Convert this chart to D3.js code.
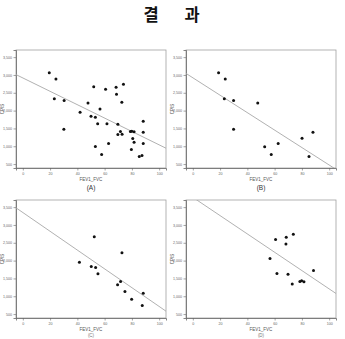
<!DOCTYPE html>
<html><head><meta charset="utf-8">
<script src="https://cdn.jsdelivr.net/npm/d3@7"></script>
<style>body{margin:0;background:#fff}svg{display:block}</style>
</head><body>
<script>
// ---- data ----
const xTicks = [0, 20, 40, 60, 80, 100];
const yTicks = [500, 1000, 1500, 2000, 2500, 3000, 3500];
const xLabel = "FEV1_FVC";
const yLabel = "CPIS";
const panelLabels = ["(A)", "(B)", "(C)", "(D)"];

const xA = [19.4,24.3,23.1,30.3,30.1,42.0,47.8,52.0,50.0,53.2,54.9,53.2,56.6,57.8,60.7,61.7,62.9,68.4,68.7,69.7,69.7,71.6,72.8,72.6,73.8,78.9,79.9,81.6,80.6,81.6,79.6,88.3,88.3,88.3,85.4,87.4];
const yA = [3063,2886,2336,2280,1479,1954,2215,2672,1842,1814,1628,994,2047,770,2597,1628,1078,2653,2457,1618,1329,1413,1339,2234,2737,1413,1423,1404,1218,1115,910,1702,1395,1078,714,742];
const fitA = [2916, -18.77];

const xB = [18.9,23.8,23.1,29.9,29.9,47.6,52.7,57.5,62.6,80.1,88.1,85.2];
const yB = [3063,2886,2336,2280,1479,2215,985,770,1078,1227,1395,714];
const fitB = [2921, -24.47];

const xC = [41.5,50.2,53.4,55.1,52.4,72.7,69.5,71.7,74.9,79.8,88.3,87.6];
const yC = [1954,1833,1806,1630,2667,2222,1324,1417,1130,917,1083,741];
const fitC = [3349, -26.36];

const xD = [60.7,68.5,73.7,68.3,56.6,61.7,69.8,88.5,72.9,78.5,79.8,81.5];
const yD = [2593,2658,2741,2463,2056,1639,1620,1722,1343,1417,1435,1408];
const fitD = [3776, -25.7];

const panels = [
  {xs: xA, ys: yA, fit: fitA, label: panelLabels[0]},
  {xs: xB, ys: yB, fit: fitB, label: panelLabels[1]},
  {xs: xC, ys: yC, fit: fitC, label: panelLabels[2]},
  {xs: xD, ys: yD, fit: fitD, label: panelLabels[3]}
];

// ---- layout ----
const W = 345, H = 339;
const svg = d3.select("body").append("svg").attr("width", W).attr("height", H);

svg.append("text").attr("x", 151).attr("y", 21).attr("text-anchor", "middle")
  .attr("font-family", "Noto Sans CJK KR").attr("font-weight", "bold").attr("font-size", 16.5)
  .attr("fill", "#111").text("결");
svg.append("text").attr("x", 192).attr("y", 21).attr("text-anchor", "middle")
  .attr("font-family", "Noto Sans CJK KR").attr("font-weight", "bold").attr("font-size", 16.5)
  .attr("fill", "#111").text("과");

const origins = [[16, 50], [186, 50], [16, 200], [186, 200]];
const pw = 150, ph = 118;

panels.forEach((p, i) => {
  const [ox, oy] = origins[i];
  const bottomRow = i >= 2;
  const g = svg.append("g").attr("transform", `translate(${ox},${oy})`);
  const x = d3.scaleLinear().domain([-5, 105]).range([0, pw]);
  const y = d3.scaleLinear().domain([390, 3700]).range([ph, 0]);

  const clipId = "clip" + i;
  g.append("clipPath").attr("id", clipId).append("rect").attr("width", pw).attr("height", ph);

  g.append("rect").attr("width", pw).attr("height", ph).attr("fill", "#fff")
    .attr("stroke", "#a0a0a0").attr("stroke-width", 0.8);

  const xAxis = g.append("g").attr("transform", `translate(0,${ph})`)
    .call(d3.axisBottom(x).tickValues(xTicks).tickSize(2.5).tickPadding(1.5));
  const yAxis = g.append("g")
    .call(d3.axisLeft(y).tickValues(yTicks).tickSize(2.5).tickPadding(1.5));
  [xAxis, yAxis].forEach(a => {
    a.select(".domain").attr("stroke", "#666").attr("stroke-width", 0.8);
    a.selectAll(".tick line").attr("stroke", "#666").attr("stroke-width", 0.6);
    a.selectAll(".tick text").attr("font-size", 3.6).attr("fill", "#666")
      .attr("font-family", "Arial, Liberation Sans, sans-serif");
  });

  // regression line
  const x0 = -5, x1 = 105;
  g.append("line").attr("clip-path", `url(#${clipId})`)
    .attr("x1", x(x0)).attr("y1", y(p.fit[0] + p.fit[1] * x0))
    .attr("x2", x(x1)).attr("y2", y(p.fit[0] + p.fit[1] * x1))
    .attr("stroke", "#a8a8a8").attr("stroke-width", 0.9);

  g.selectAll("circle.pt").data(p.xs.map((v, k) => [v, p.ys[k]])).join("circle")
    .attr("class", "pt").attr("cx", d => x(d[0])).attr("cy", d => y(d[1]))
    .attr("r", 1.5).attr("fill", "#111");

  g.append("text").attr("x", pw / 2).attr("y", ph + 13).attr("text-anchor", "middle")
    .attr("font-size", 4.5).attr("fill", "#555").attr("font-family", "Arial, Liberation Sans, sans-serif")
    .text(xLabel);
  g.append("text").attr("x", pw / 2).attr("y", bottomRow ? ph + 19 : ph + 22).attr("text-anchor", "middle")
    .attr("font-size", bottomRow ? 4.5 : 6.5).attr("fill", bottomRow ? "#777" : "#333")
    .attr("font-family", "Arial, Liberation Sans, sans-serif")
    .text(p.label);
  g.append("text").attr("transform", `translate(-12,${ph / 2}) rotate(-90)`)
    .attr("text-anchor", "middle").attr("font-size", 4.5).attr("fill", "#555")
    .attr("font-family", "Arial, Liberation Sans, sans-serif").text(yLabel);
});
</script>
</body></html>
